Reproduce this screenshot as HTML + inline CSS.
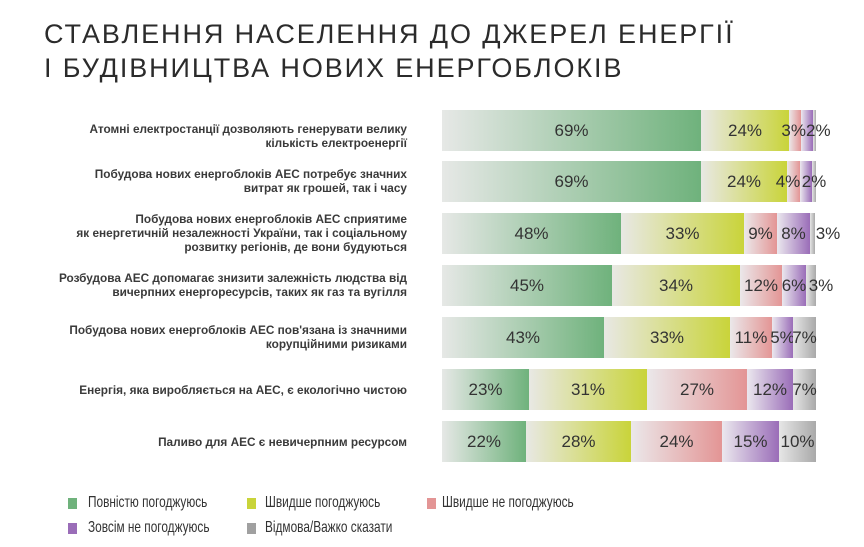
<!DOCTYPE html>
<html><head><meta charset="utf-8"><style>
body{margin:0;background:#fff;width:864px;height:547px;position:relative;overflow:hidden;font-family:"Liberation Sans","DejaVu Sans",sans-serif;color:#2b2b2b}
.t{position:absolute;left:44px;font-size:27px;letter-spacing:1.9px;line-height:34px;white-space:nowrap}
.lab{position:absolute;right:457px;width:380px;text-align:right;font-size:11.8px;line-height:14px;font-weight:bold;color:#3a3a3a}
.seg{position:absolute;height:41px;display:flex;align-items:center;justify-content:center;font-size:17px;color:#333;overflow:visible;white-space:nowrap}
.g{background:linear-gradient(90deg,#e6e8e6,#6fb27c)}
.y{background:linear-gradient(90deg,#e8e8e4,#c9d43a)}
.p{background:linear-gradient(90deg,#ebe8ea,#e39595)}
.v{background:linear-gradient(90deg,#ebe8ee,#9a6db8)}
.k{background:linear-gradient(90deg,#e6e6e6,#a9a9a9)}
.lg{position:absolute;font-size:16px;color:#333;transform:scaleX(0.74);transform-origin:0 0;white-space:nowrap}
.sq{position:absolute;width:9px;height:11px}
</style></head><body>
<div class="t" style="top:17px">СТАВЛЕННЯ НАСЕЛЕННЯ ДО ДЖЕРЕЛ ЕНЕРГІЇ</div>
<div class="t" style="top:51px">І БУДІВНИЦТВА НОВИХ ЕНЕРГОБЛОКІВ</div>

<div class="lab" style="top:122px">Атомні електростанції дозволяють генерувати велику<br>кількість електроенергії</div>
<div class="lab" style="top:167px">Побудова нових енергоблоків АЕС потребує значних<br>витрат як грошей, так і часу</div>
<div class="lab" style="top:212px">Побудова нових енергоблоків АЕС сприятиме<br>як енергетичній незалежності України, так і соціальному<br>розвитку регіонів, де вони будуються</div>
<div class="lab" style="top:271px">Розбудова АЕС допомагає знизити залежність людства від<br>вичерпних енергоресурсів, таких як газ та вугілля</div>
<div class="lab" style="top:323px">Побудова нових енергоблоків АЕС пов'язана із значними<br>корупційними ризиками</div>
<div class="lab" style="top:383px">Енергія, яка виробляється на АЕС, є екологічно чистою</div>
<div class="lab" style="top:435px">Паливо для АЕС є невичерпним ресурсом</div>

<div class="seg g" style="top:110px;left:442px;width:259px">69%</div>
<div class="seg y" style="top:110px;left:701px;width:88px">24%</div>
<div class="seg p" style="top:110px;left:789px;width:12px"></div>
<div class="seg v" style="top:110px;left:801px;width:12px"></div>
<div class="seg k" style="top:110px;left:813px;width:3px"></div>
<div class="seg" style="top:110px;left:776px;width:60px;background:none">3%2%</div>

<div class="seg g" style="top:161px;left:442px;width:259px">69%</div>
<div class="seg y" style="top:161px;left:701px;width:86px">24%</div>
<div class="seg p" style="top:161px;left:787px;width:13px"></div>
<div class="seg v" style="top:161px;left:800px;width:12px"></div>
<div class="seg k" style="top:161px;left:812px;width:4px"></div>
<div class="seg" style="top:161px;left:768px;width:40px;background:none">4%</div>
<div class="seg" style="top:161px;left:799px;width:30px;background:none">2%</div>

<div class="seg g" style="top:213px;left:442px;width:179px">48%</div>
<div class="seg y" style="top:213px;left:621px;width:123px">33%</div>
<div class="seg p" style="top:213px;left:744px;width:33px">9%</div>
<div class="seg v" style="top:213px;left:777px;width:33px">8%</div>
<div class="seg k" style="top:213px;left:810px;width:5px"></div>
<div class="seg" style="top:213px;left:813px;width:30px;background:none">3%</div>

<div class="seg g" style="top:265px;left:442px;width:170px">45%</div>
<div class="seg y" style="top:265px;left:612px;width:128px">34%</div>
<div class="seg p" style="top:265px;left:740px;width:42px">12%</div>
<div class="seg v" style="top:265px;left:782px;width:24px">6%</div>
<div class="seg k" style="top:265px;left:806px;width:10px"></div>
<div class="seg" style="top:265px;left:806px;width:30px;background:none">3%</div>

<div class="seg g" style="top:317px;left:442px;width:162px">43%</div>
<div class="seg y" style="top:317px;left:604px;width:126px">33%</div>
<div class="seg p" style="top:317px;left:730px;width:42px">11%</div>
<div class="seg v" style="top:317px;left:772px;width:21px">5%</div>
<div class="seg k" style="top:317px;left:793px;width:23px">7%</div>

<div class="seg g" style="top:369px;left:442px;width:87px">23%</div>
<div class="seg y" style="top:369px;left:529px;width:118px">31%</div>
<div class="seg p" style="top:369px;left:647px;width:100px">27%</div>
<div class="seg v" style="top:369px;left:747px;width:46px">12%</div>
<div class="seg k" style="top:369px;left:793px;width:23px">7%</div>

<div class="seg g" style="top:421px;left:442px;width:84px">22%</div>
<div class="seg y" style="top:421px;left:526px;width:105px">28%</div>
<div class="seg p" style="top:421px;left:631px;width:91px">24%</div>
<div class="seg v" style="top:421px;left:722px;width:57px">15%</div>
<div class="seg k" style="top:421px;left:779px;width:37px">10%</div>

<div class="sq" style="left:68px;top:498px;background:#6fb27c"></div><div class="lg" style="left:88px;top:494px">Повністю погоджуюсь</div>
<div class="sq" style="left:247px;top:498px;background:#c9d43a"></div><div class="lg" style="left:265px;top:494px">Швидше погоджуюсь</div>
<div class="sq" style="left:427px;top:498px;background:#e39595"></div><div class="lg" style="left:442px;top:494px">Швидше не погоджуюсь</div>
<div class="sq" style="left:68px;top:523px;background:#9a6db8"></div><div class="lg" style="left:88px;top:519px">Зовсім не погоджуюсь</div>
<div class="sq" style="left:247px;top:523px;background:#a0a0a0"></div><div class="lg" style="left:265px;top:519px">Відмова/Важко сказати</div>
</body></html>
